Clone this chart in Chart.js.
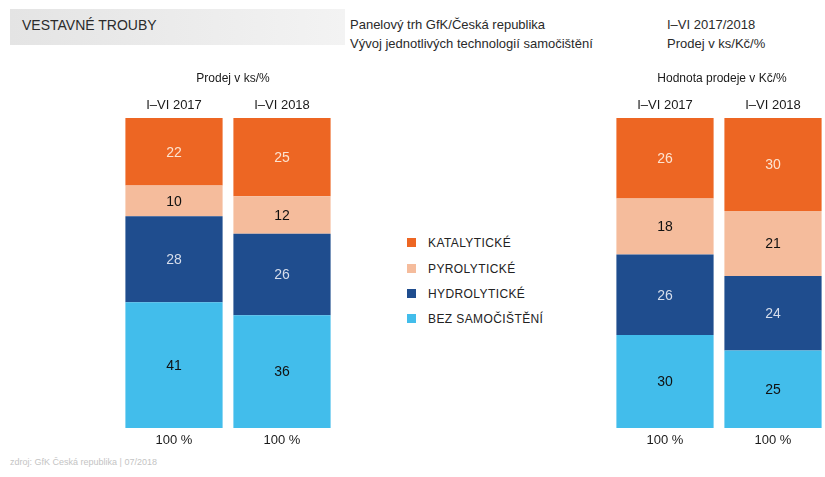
<!DOCTYPE html>
<html>
<head>
<meta charset="utf-8">
<script src="https://cdn.jsdelivr.net/npm/chart.js@4.4.1/dist/chart.umd.min.js"></script>
<style>
  html, body { margin:0; padding:0; background:#fff; width:825px; height:477px; overflow:hidden; position:relative;
    font-family:"Liberation Sans", Arial, Helvetica, sans-serif; color:#2a2a2a; }
  .band { position:absolute; left:10px; top:9px; width:335px; height:36px;
    background:linear-gradient(90deg,#e4e4e4 0%,#ececec 55%,#f3f3f3 100%); }
  .t { position:absolute; white-space:nowrap; }
  .wrap { position:absolute; }
  .leg { position:absolute; left:407px; }
  .leg .sq { position:absolute; left:0; width:9px; height:9px; }
  .leg .tx { position:absolute; left:21px; font-size:12px; letter-spacing:0.4px; color:#222; white-space:nowrap; line-height:12px; }
</style>
</head>
<body>
<div class="band"></div>
<div class="t" style="left:22px;top:17px;font-size:14px;color:#2b2b2b;">VESTAVNÉ TROUBY</div>
<div class="t" style="left:350px;top:17px;font-size:13px;">Panelový trh GfK/Česká republika</div>
<div class="t" style="left:350px;top:36px;font-size:13px;">Vývoj jednotlivých technologií samočištění</div>
<div class="t" style="left:667px;top:17px;font-size:13px;">I–VI 2017/2018</div>
<div class="t" style="left:667px;top:36px;font-size:13px;">Prodej v ks/Kč/%</div>
<div class="t" style="left:10px;top:457px;font-size:9px;color:#c4c4c4;">zdroj: GfK Česká republika | 07/2018</div>

<div class="wrap" style="left:120px;top:60px;"><canvas id="c1" width="216" height="400"></canvas></div>
<div class="wrap" style="left:611px;top:60px;"><canvas id="c2" width="216" height="400"></canvas></div>
<div id="legend"></div>

<script>
// ---- data ----
const categories = ['I–VI 2017', 'I–VI 2018'];
const totalLabels = ['100 %', '100 %'];
const seriesNames = ['KATALYTICKÉ', 'PYROLYTICKÉ', 'HYDROLYTICKÉ', 'BEZ SAMOČIŠTĚNÍ'];
const seriesColors = ['#ED6623', '#F5BC9C', '#1F4D8E', '#42BDEB'];
const labelColors = ['#FCE3D0', '#111111', '#D6DDEB', '#111111'];

// Prodej v ks/%
const ksKatalyticke = [22, 25];
const ksPyrolyticke = [10, 12];
const ksHydrolyticke = [28, 26];
const ksBezSamocisteni = [41, 36];

// Hodnota prodeje v Kč/%
const kcKatalyticke = [26, 30];
const kcPyrolyticke = [18, 21];
const kcHydrolyticke = [26, 24];
const kcBezSamocisteni = [30, 25];

const leftTitle = 'Prodej v ks/%';
const rightTitle = 'Hodnota prodeje v Kč/%';

// ---- chart ----
const FONT = '"Liberation Sans", Arial, Helvetica, sans-serif';

const labelPlugin = {
  id: 'barLabels',
  afterDatasetsDraw(chart, args, opts) {
    const ctx = chart.ctx, ca = chart.chartArea;
    ctx.save();
    ctx.textAlign = 'center';
    ctx.textBaseline = 'middle';
    ctx.font = '14px ' + FONT;
    chart.data.datasets.forEach((ds, i) => {
      const meta = chart.getDatasetMeta(i);
      meta.data.forEach((bar, j) => {
        const p = bar.getProps(['x', 'y', 'base'], true);
        ctx.fillStyle = ds.labelColor;
        ctx.fillText(String(ds.raw[j]), p.x, (p.y + p.base) / 2 + 1);
      });
    });
    ctx.fillStyle = '#1a1a1a';
    ctx.font = '13px ' + FONT;
    const meta0 = chart.getDatasetMeta(0);
    meta0.data.forEach((bar, j) => {
      ctx.fillText(categories[j], bar.x, ca.top - 13);
      ctx.fillText(totalLabels[j], bar.x, ca.bottom + 12);
    });
    ctx.font = '12px ' + FONT;
    ctx.fillText(opts.title, (ca.left + ca.right) / 2 + opts.titleShift, ca.top - 39);
    ctx.restore();
  }
};

function makeChart(id, kat, pyr, hyd, bez, title, shift) {
  const series = [kat, pyr, hyd, bez];
  const sums = categories.map((c, j) => series.reduce((s, arr) => s + arr[j], 0));
  // stack bottom-up: BEZ, HYDRO, PYRO, KATAL
  const order = [3, 2, 1, 0];
  const datasets = order.map(k => ({
    label: seriesNames[k],
    raw: series[k],
    data: series[k].map((v, j) => v / sums[j] * 100),
    backgroundColor: seriesColors[k],
    labelColor: labelColors[k],
    borderWidth: 0,
    barPercentage: 1,
    categoryPercentage: 0.9,
    stack: 's'
  }));
  return new Chart(document.getElementById(id), {
    type: 'bar',
    data: { labels: categories, datasets },
    options: {
      responsive: false,
      animation: false,
      layout: { padding: { top: 58, bottom: 32, left: 0, right: 0 } },
      scales: {
        x: { display: false, stacked: true },
        y: { display: false, stacked: true, min: 0, max: 100 }
      },
      plugins: {
        legend: { display: false },
        tooltip: { enabled: false },
        barLabels: { title: title, titleShift: shift }
      }
    },
    plugins: [labelPlugin]
  });
}

makeChart('c1', ksKatalyticke, ksPyrolyticke, ksHydrolyticke, ksBezSamocisteni, leftTitle, 5);
makeChart('c2', kcKatalyticke, kcPyrolyticke, kcHydrolyticke, kcBezSamocisteni, rightTitle, 3);

// legend (top to bottom)
const legTops = [237, 263, 288, 313];
const legend = document.getElementById('legend');
seriesNames.forEach((name, k) => {
  const d = document.createElement('div');
  d.className = 'leg';
  d.style.top = legTops[k] + 'px';
  d.innerHTML = '<div class="sq" style="top:1px;background:' + seriesColors[k] + '"></div><div class="tx">' + name + '</div>';
  legend.appendChild(d);
});
</script>
</body>
</html>
